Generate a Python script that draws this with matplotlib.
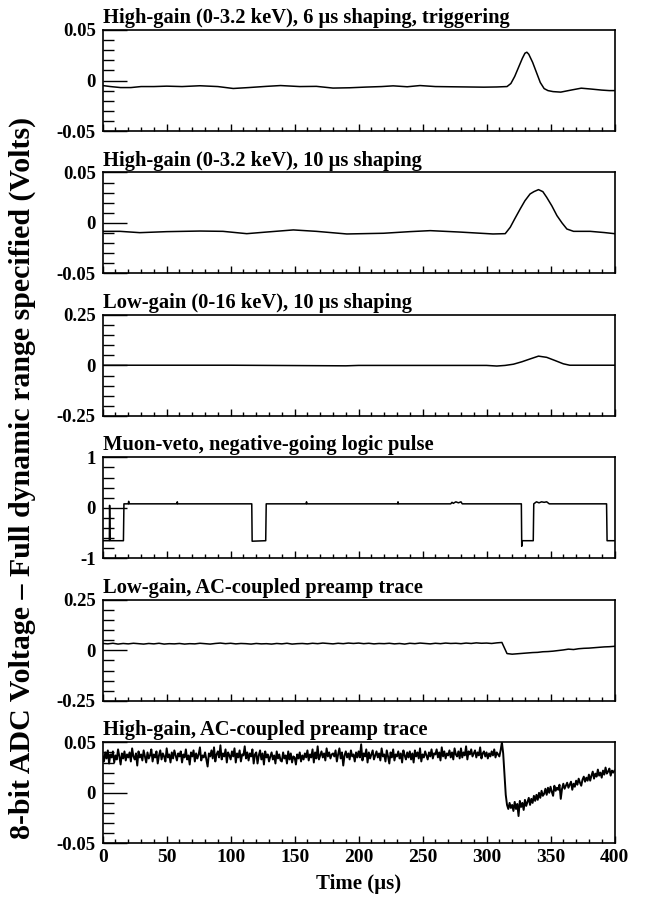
import numpy as np
import matplotlib
matplotlib.use("Agg")
from matplotlib import pyplot as plt
from matplotlib.ticker import MultipleLocator, FixedLocator, FixedFormatter

plt.rcParams['font.family'] = ['Liberation Serif', 'DejaVu Serif']
plt.rcParams['font.weight'] = 'bold'
plt.rcParams['axes.unicode_minus'] = False

titles = [
    "High-gain (0-3.2 keV), 6 \u00b5s shaping, triggering",
    "High-gain (0-3.2 keV), 10 \u00b5s shaping",
    "Low-gain (0-16 keV), 10 \u00b5s shaping",
    "Muon-veto, negative-going logic pulse",
    "Low-gain, AC-coupled preamp trace",
    "High-gain, AC-coupled preamp trace",
]
y_limits = [0.05, 0.05, 0.25, 1.0, 0.25, 0.05]
y_ticklabels = [
    ["-0.05", "0", "0.05"],
    ["-0.05", "0", "0.05"],
    ["-0.25", "0", "0.25"],
    ["-1", "0", "1"],
    ["-0.25", "0", "0.25"],
    ["-0.05", "0", "0.05"],
]

# high-gain, 6 us shaping
t1 = [0, 6, 14, 22, 30, 40, 50, 62, 76, 90,
      102, 114, 128, 139, 154, 167, 180, 193, 206, 218,
      227, 238, 248, 260, 272, 285, 298, 308, 316, 319,
      322, 325, 328, 330, 331.5, 333, 336, 339, 342, 345,
      348, 352, 358, 366, 374, 382, 390, 396, 400]
v1 = [-0.005, -0.006, -0.007, -0.007, -0.006, -0.006, -0.0056, -0.006, -0.0052, -0.006,
      -0.0079, -0.007, -0.0058, -0.005, -0.006, -0.0058, -0.0075, -0.0072, -0.0065, -0.006,
      -0.0053, -0.0062, -0.005, -0.006, -0.0062, -0.0064, -0.0066, -0.0064, -0.006, -0.003,
      0.004, 0.013, 0.022, 0.027, 0.028, 0.026, 0.018, 0.008, -0.002, -0.008,
      -0.010, -0.011, -0.0115, -0.0095, -0.0076, -0.0085, -0.0095, -0.010, -0.010]

# high-gain, 10 us shaping
t2 = [0, 13.5, 29, 50, 76, 94, 112.6, 128, 149, 167,
      190.8, 219.4, 240, 256, 279, 305, 314.6, 318.5, 322, 326.3,
      330, 334, 337, 340.6, 344, 347, 351, 355, 359, 362.8,
      368, 381, 392, 400]
v2 = [-0.0083, -0.0083, -0.0096, -0.0086, -0.008, -0.0083, -0.0106, -0.009, -0.0069, -0.0083,
      -0.0109, -0.0102, -0.0086, -0.0076, -0.009, -0.0109, -0.0106, -0.0043, 0.004, 0.0139,
      0.022, 0.0287, 0.031, 0.033, 0.031, 0.0254, 0.017, 0.0073, 0.0, -0.006,
      -0.0083, -0.0083, -0.0095, -0.0106]

# low-gain, 10 us shaping
t3 = [0, 100, 190, 200, 300, 308, 314.5, 321, 327.6, 334, 340.6, 347, 353.6, 360, 365, 380, 400]
v3 = [0.001, 0.001, -0.002, 0.0, 0.0, -0.003, 0.0, 0.006, 0.018, 0.032, 0.046, 0.040, 0.024, 0.008, 0.001, 0.001, 0.001]

# muon veto logic
t4 = [0, 5.2, 5.4, 5.8, 16.2, 16.6, 20.0, 20.3, 20.6, 58.0,
      58.3, 58.6, 116.5, 116.8, 127.4, 127.8, 159.0, 159.3, 159.6, 230.5,
      230.8, 231.1, 272, 273, 274, 276, 278, 280, 281, 327.2,
      327.5, 328, 336.5, 336.9, 339, 341, 343, 345, 347, 349,
      393.8, 394.2, 400]
v4 = [-0.65, -0.65, 0.05, -0.65, -0.65, 0.08, 0.08, 0.13, 0.08, 0.08,
      0.12, 0.08, 0.08, -0.66, -0.65, 0.08, 0.08, 0.12, 0.08, 0.08,
      0.12, 0.08, 0.08, 0.11, 0.09, 0.12, 0.10, 0.12, 0.08, 0.08,
      -0.76, -0.65, -0.65, 0.08, 0.12, 0.10, 0.12, 0.11, 0.12, 0.08,
      0.08, -0.65, -0.65]

# low-gain preamp, every 4 us
t5 = np.arange(0, 401, 4)
v5 = [0.034, 0.032, 0.035, 0.031, 0.034, 0.032, 0.035, 0.033, 0.031, 0.034,
      0.032, 0.035, 0.031, 0.033, 0.032, 0.034, 0.031, 0.033, 0.032, 0.035,
      0.033, 0.031, 0.034, 0.036, 0.033, 0.035, 0.032, 0.034, 0.033, 0.031,
      0.034, 0.032, 0.033, 0.031, 0.034, 0.032, 0.035, 0.031, 0.033, 0.034,
      0.032, 0.035, 0.033, 0.036, 0.034, 0.032, 0.035, 0.033, 0.036, 0.034,
      0.036, 0.033, 0.035, 0.032, 0.034, 0.033, 0.035, 0.032, 0.034, 0.031,
      0.035, 0.033, 0.036, 0.034, 0.032, 0.035, 0.033, 0.036, 0.034, 0.035,
      0.033, 0.036, 0.034, 0.037, 0.035, 0.036, 0.034, 0.037, 0.039, -0.016,
      -0.019, -0.017, -0.015, -0.013, -0.011, -0.010, -0.007, -0.006, -0.004, -0.001,
      0.002, 0.006, 0.004, 0.008, 0.010, 0.011, 0.013, 0.015, 0.017, 0.018,
      0.020]

# high-gain preamp, every 1 us, in mV
t6 = np.arange(0, 401, 1)
v6_mv = [
    36, 31, 40, 34, 42, 29, 38, 35, 41, 30, 37, 33, 43, 36, 28, 39, 34, 41, 32, 38,
    35, 40, 31, 44, 36, 33, 39, 27, 41, 35, 38, 32, 42, 36, 30, 40, 34, 37, 43, 31,
    38, 35, 41, 29, 37, 42, 33, 39, 36, 31, 44, 35, 38, 30, 40, 34, 42, 37, 32, 39,
    36, 41, 30, 38, 35, 43, 33, 37, 28, 40, 36, 42, 31, 39, 34, 38, 45, 32, 37, 35,
    40, 33, 26, 39, 36, 42, 34, 45, 31, 38, 41, 35, 47, 33, 39, 36, 43, 30, 40, 37,
    33, 41, 36, 44, 30, 39, 35, 42, 31, 38, 37, 46, 34, 40, 32, 39, 36, 43, 29, 38,
    40, 29, 37, 42, 33, 39, 28, 41, 35, 38, 31, 36, 40, 33, 37, 29, 41, 34, 38, 32,
    31, 40, 34, 37, 29, 41, 33, 39, 30, 36, 35, 28, 38, 34, 40, 31, 37, 33, 39, 35,
    42, 32, 38, 35, 43, 30, 40, 34, 46, 33, 37, 41, 35, 39, 32, 44, 36, 40, 34, 38,
    39, 36, 42, 31, 38, 44, 34, 40, 27, 37, 41, 35, 39, 33, 42, 36, 38, 31, 40, 35,
    41, 35, 48, 32, 39, 36, 43, 30, 40, 34, 38, 42, 33, 37, 41, 35, 39, 32, 44, 36,
    38, 31, 42, 36, 29, 40, 35, 43, 32, 38, 36, 41, 34, 39, 30, 42, 37, 33, 40, 35,
    41, 33, 39, 30, 42, 36, 40, 34, 44, 31, 38, 35, 41, 37, 33, 40, 36, 43, 34, 39,
    38, 43, 35, 40, 32, 45, 36, 41, 34, 39, 37, 42, 35, 40, 33, 44, 38, 36, 41, 34,
    44, 35, 40, 37, 46, 33, 41, 38, 43, 36, 39, 42, 35, 40, 37, 45, 34, 39, 41, 36,
    40, 34, 39, 36, 41, 37, 43, 35, 40, 38, 36, 42, 50, 39, 18, -2, -12, -16, -10, -15,
    -12, -18, -9, -16, -11, -23, -8, -14, -10, -17, -7, -13, -9, -5, -12, -6, -10, -3, -8, -2,
    -7, 0, -5, 2, -3, -1, 4, -2, 5, 0, 6, 1, -3, 7, 2, 5, 3, 8, -6, 4,
    9, 4, 7, 10, 5, 8, 11, 3, 9, 6, 12, 8, 14, 10, 7, 13, 16, 11, 15, 12,
    18, 12, 17, 21, 14, 19, 16, 23, 17, 20, 15, 22, 18, 25, 19, 21, 24, 17, 22, 20,
    22,
]
v6 = np.array(v6_mv) / 1000.0

traces = [(t1, v1), (t2, v2), (t3, v3), (t4, v4), (t5, v5), (t6, v6)]

W, H = 650, 899
fig = plt.figure(figsize=(W / 100, H / 100), dpi=100)

left, width, height, step, top0 = 102.7, 511.8, 101, 142.46, 30
for i, (t, v) in enumerate(traces):
    top = top0 + i * step
    ax = fig.add_axes([left / W, 1 - (top + height) / H, width / W, height / H])
    ax.plot(t, v, color='black', lw=1.1 if i < 5 else 1.4)
    lim = y_limits[i]
    ax.set_xlim(0, 400)
    ax.set_ylim(-lim, lim)

    ax.yaxis.set_major_locator(FixedLocator([-lim, 0, lim]))
    ax.yaxis.set_major_formatter(FixedFormatter(y_ticklabels[i]))
    ax.yaxis.set_minor_locator(MultipleLocator(lim / 5))
    ax.xaxis.set_major_locator(MultipleLocator(50))
    ax.xaxis.set_minor_locator(MultipleLocator(10))

    ax.tick_params(axis='y', which='major', direction='in', length=17, width=1.0,
                   labelsize=13.5, pad=5)
    ax.tick_params(axis='y', which='minor', direction='in', length=8, width=1.0)
    ax.tick_params(axis='x', which='major', direction='in', length=5, width=1.0,
                   labelsize=14, pad=4)
    ax.tick_params(axis='x', which='minor', direction='in', length=3, width=1.0)
    if i < 5:
        ax.tick_params(axis='x', labelbottom=False)
    for lab in ax.get_xticklabels() + ax.get_yticklabels():
        lab.set_fontweight('bold')
    for sp in ax.spines.values():
        sp.set_linewidth(1.2)

    ax.set_title(titles[i], loc='left', fontsize=14.8, fontweight='bold', pad=5)

    if i == 5:
        ax.set_xlabel("Time (\u00b5s)", fontsize=15, fontweight='bold', labelpad=6)

fig.text(22 / W, 1 - 478 / H,
         "8-bit ADC Voltage \u2013 Full dynamic range specified (Volts)",
         rotation=90, ha='center', va='center', fontsize=21.5, fontweight='bold')

fig.savefig("out.png", dpi=100)
